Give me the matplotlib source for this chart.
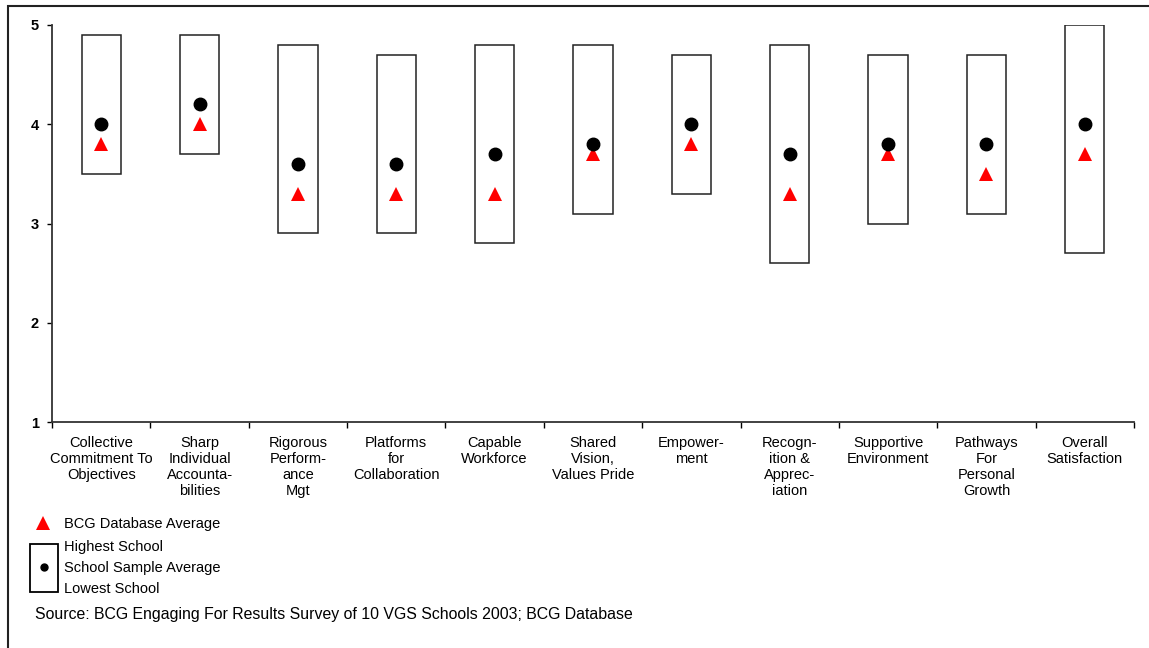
import matplotlib.pyplot as plt
from matplotlib.patches import Rectangle
from matplotlib.lines import Line2D
import numpy as np

plt.rcParams['font.family'] = ['Liberation Sans', 'DejaVu Sans']

# categorias y valores
categorias = ["Collective\nCommitment To\nObjectives",
              "Sharp\nIndividual\nAccounta-\nbilities",
              "Rigorous\nPerform-\nance\nMgt",
              "Platforms\nfor\nCollaboration",
              "Capable\nWorkforce",
              "Shared\nVision,\nValues Pride",
              "Empower-\nment",
              "Recogn-\nition &\nApprec-\niation",
              "Supportive\nEnvironment",
              "Pathways\nFor\nPersonal\nGrowth",
              "Overall\nSatisfaction"]
escuela_max = [4.9, 4.9, 4.8, 4.7, 4.8, 4.8, 4.7, 4.8, 4.7, 4.7, 5.0]
escuela_min = [3.5, 3.7, 2.9, 2.9, 2.8, 3.1, 3.3, 2.6, 3.0, 3.1, 2.7]
promedio_muestra = [4.0, 4.2, 3.6, 3.6, 3.7, 3.8, 4.0, 3.7, 3.8, 3.8, 4.0]
promedio_bcg = [3.8, 4.0, 3.3, 3.3, 3.3, 3.7, 3.8, 3.3, 3.7, 3.5, 3.7]

x = np.arange(1, len(categorias) + 1)
alto = np.array(escuela_max) - np.array(escuela_min)

fig = plt.figure(figsize=(11.49, 6.48), dpi=100)
ax = fig.add_axes([52/1149, 1 - 422/648, (1134 - 52)/1149, (422 - 25)/648])

# cajas entre la escuela mas baja y la mas alta
ax.bar(x, alto, bottom=escuela_min, width=0.4, fill=False,
       edgecolor="#222222", linewidth=1.1)
ax.plot(x, promedio_bcg, linestyle="none", marker="^", color="red",
        markersize=9.5, markeredgewidth=0)
ax.plot(x, promedio_muestra, linestyle="none", marker="o", color="black",
        markersize=9)

ax.set_xlim(0.5, len(categorias) + 0.5)
ax.set_ylim(1, 5)
ax.set_yticks([1, 2, 3, 4, 5])
ax.tick_params(axis="y", length=3.5, width=1, pad=6, labelsize=10.5)
for t in ax.get_yticklabels():
    t.set_fontweight("bold")

ax.set_xticks(x)
ax.set_xticklabels(categorias, fontsize=10.5, linespacing=1.2, va="top")
ax.tick_params(axis="x", which="major", length=0, pad=10)
ax.set_xticks(np.arange(0.5, len(categorias) + 1, 1), minor=True)
ax.tick_params(axis="x", which="minor", length=4, width=1, direction="out")

for s in ["top", "right"]:
    ax.spines[s].set_visible(False)
for s in ["left", "bottom"]:
    ax.spines[s].set_linewidth(1.3)
    ax.spines[s].set_color("#333333")

# leyenda dibujada a mano
def px(xp, yp):
    return xp / 1149, 1 - yp / 648

fig.add_artist(Line2D([px(43, 0)[0]], [px(0, 523)[1]], marker="^", color="red",
                      markersize=9.5, markeredgewidth=0, linestyle="none"))
fig.text(*px(64, 524), "BCG Database Average", fontsize=10.5, va="center")
x0, y0 = px(30, 592)
x1, y1 = px(58, 544)
fig.add_artist(Rectangle((x0, y0), x1 - x0, y1 - y0, fill=False,
                         edgecolor="black", linewidth=1.3,
                         transform=fig.transFigure))
fig.add_artist(Line2D([px(44, 0)[0]], [px(0, 567)[1]], marker="o", color="black",
                      markersize=5, linestyle="none"))
fig.text(*px(64, 547), "Highest School", fontsize=10.5, va="center")
fig.text(*px(64, 568), "School Sample Average", fontsize=10.5, va="center")
fig.text(*px(64, 589), "Lowest School", fontsize=10.5, va="center")
fig.text(*px(35, 614), "Source: BCG Engaging For Results Survey of 10 VGS Schools 2003; BCG Database",
         fontsize=11.4, va="center")

# marco exterior
bx, by = px(8, 660)
fig.add_artist(Rectangle((bx, by), 1.1, (660 - 6) / 648, fill=False,
                         edgecolor="#222222", linewidth=1.5,
                         transform=fig.transFigure))

fig.savefig("out.png", dpi=100)
